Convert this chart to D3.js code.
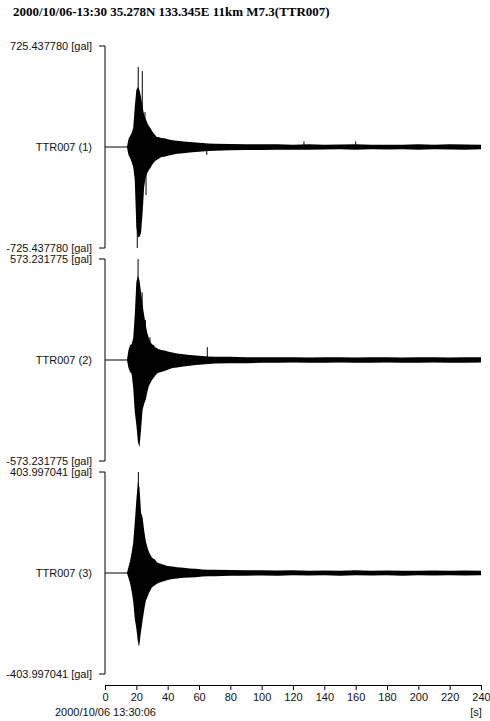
<!DOCTYPE html>
<html lang="en">
<head>
<meta charset="UTF-8" />
<title>TTR007 acceleration</title>
<script src="https://d3js.org/d3.v7.min.js"></script>
<style>
  body { margin: 0; background: #fff; }
  svg { display: block; }
  .lbl { font-family: "Liberation Sans", Arial, sans-serif; font-size: 11px; fill: #111; }
  .title { font-family: "Liberation Serif", "Times New Roman", serif; font-weight: bold; font-size: 13px; fill: #000; }
  .axis text { font-family: "Liberation Sans", Arial, sans-serif; font-size: 11px; fill: #111; }
  .axis path, .axis line { stroke: #000; }
</style>
</head>
<body>
<svg width="490" height="721"></svg>
<script>
// envelope of each trace (gal)
const times = [0, 14, 15, 16, 17, 18, 19, 20, 21, 22, 23, 24, 25, 26, 27, 28, 29, 30, 31, 32, 33, 34,
  36, 38, 40, 43, 46, 50, 54, 58, 62, 66, 70,
  80, 90, 100, 110, 120, 130, 140, 150, 160, 170, 180, 190, 200, 210, 220, 230, 240];

const up1 = [0, 0, 57, 79, 101, 136, 287, 409, 431, 409, 359, 287, 230, 201, 172, 151, 136, 115, 101, 86, 72, 72,
  65, 62, 55, 48, 45, 40, 36, 32, 29, 25, 24,
  22, 20, 19, 20, 17, 19, 17, 18, 19, 17, 16, 17, 19, 17, 19, 18, 17];
const dn1 = [0, 0, -57, -79, -108, -144, -237, -574, -646, -646, -617, -474, -287, -215, -187, -165, -151, -129, -115, -101, -93, -86,
  -72, -70, -62, -55, -48, -45, -40, -36, -32, -29, -27,
  -24, -22, -21, -19, -19, -20, -18, -17, -19, -17, -18, -17, -19, -17, -18, -19, -17];

const up2 = [0, 0, 57, 85, 90, 124, 254, 441, 480, 452, 384, 311, 254, 198, 153, 124, 102, 90, 85, 73, 68, 62,
  57, 54, 48, 42, 37, 32, 29, 25, 23, 20, 19,
  18, 16, 16, 15, 16, 14, 15, 16, 14, 15, 16, 14, 15, 16, 14, 15, 15];
const dn2 = [0, 0, -45, -68, -79, -158, -294, -367, -463, -497, -396, -283, -249, -226, -181, -147, -130, -113, -102, -90, -79, -73,
  -68, -62, -55, -45, -42, -37, -32, -29, -25, -23, -20,
  -19, -18, -16, -16, -14, -16, -16, -14, -16, -15, -14, -16, -15, -14, -16, -15, -14];

const up3 = [0, 0, 24, 48, 81, 121, 202, 291, 364, 343, 242, 222, 170, 129, 105, 85, 73, 61, 57, 53, 44, 40,
  36, 32, 28, 26, 23, 21, 18, 17, 14, 13, 13,
  12, 11, 11, 10, 11, 9, 10, 9, 11, 9, 10, 9, 9, 10, 9, 10, 9];
const dn3 = [0, 0, -20, -40, -73, -113, -182, -222, -275, -283, -234, -190, -149, -113, -97, -81, -69, -57, -53, -48, -44, -40,
  -36, -32, -28, -24, -22, -19, -18, -17, -14, -13, -13,
  -11, -11, -10, -11, -9, -10, -9, -11, -9, -10, -9, -11, -9, -10, -9, -10, -9];

// isolated peaks sticking out of the envelope
const spikeT1 = [20.6, 21.2, 23.8, 25.5, 26.2, 65, 127, 160];
const spikeV1 = [-725, 575, 545, 250, -345, -57, 40, 40];
const spikeT2 = [21.1, 23.7, 25.8, 28.7, 65.3];
const spikeV2 = [573, 384, 226, 130, 73];
const spikeT3 = [21.3, 21.6];
const spikeV3 = [404, -290];

const maxAmp = [725.437780, 573.231775, 403.997041];
const traceNames = ["TTR007 (1)", "TTR007 (2)", "TTR007 (3)"];
const xTicks = [0, 20, 40, 60, 80, 100, 120, 140, 160, 180, 200, 220, 240];

const titleText = "2000/10/06-13:30 35.278N 133.345E 11km M7.3(TTR007)";
const startText = "2000/10/06 13:30:06";

const traces = [
  { up: up1, dn: dn1, st: spikeT1, sv: spikeV1 },
  { up: up2, dn: dn2, st: spikeT2, sv: spikeV2 },
  { up: up3, dn: dn3, st: spikeT3, sv: spikeV3 }
];

const svg = d3.select("svg");
const x = d3.scaleLinear().domain([0, 240]).range([105, 481]);
const panelTop = [46, 259, 472];
const panelH = 202;
const axisY = 685;

svg.append("text")
  .attr("class", "title")
  .attr("x", 13)
  .attr("y", 16)
  .text(titleText);

traces.forEach((tr, i) => {
  const top = panelTop[i];
  const bottom = top + panelH;
  const y = d3.scaleLinear().domain([-maxAmp[i], maxAmp[i]]).range([bottom, top]);
  const g = svg.append("g");

  // bracket axis
  g.append("path")
    .attr("d", `M99,${top}H${x(0)}V${bottom}H99`)
    .attr("fill", "none")
    .attr("stroke", "#000");

  // baseline
  g.append("line")
    .attr("x1", x(0)).attr("x2", x(240))
    .attr("y1", y(0)).attr("y2", y(0))
    .attr("stroke", "#000");

  const pts = times.map((t, j) => ({ t: t, hi: tr.up[j], lo: tr.dn[j] }));
  const area = d3.area()
    .x((d) => x(d.t))
    .y0((d) => y(d.lo))
    .y1((d) => y(d.hi));

  g.append("path")
    .datum(pts)
    .attr("d", area)
    .attr("fill", "#000");

  g.selectAll(".spike")
    .data(tr.st.map((t, j) => ({ t: t, v: tr.sv[j] })))
    .enter()
    .append("line")
    .attr("class", "spike")
    .attr("x1", (d) => x(d.t)).attr("x2", (d) => x(d.t))
    .attr("y1", y(0)).attr("y2", (d) => y(d.v))
    .attr("stroke", "#000")
    .attr("stroke-width", 1);

  // labels
  g.append("text").attr("class", "lbl")
    .attr("x", 92).attr("y", top).attr("dy", "0.35em")
    .attr("text-anchor", "end")
    .text(maxAmp[i].toFixed(6) + " [gal]");
  g.append("text").attr("class", "lbl")
    .attr("x", 92).attr("y", y(0)).attr("dy", "0.35em")
    .attr("text-anchor", "end")
    .text(traceNames[i]);
  g.append("text").attr("class", "lbl")
    .attr("x", 92).attr("y", bottom).attr("dy", "0.35em")
    .attr("text-anchor", "end")
    .text("-" + maxAmp[i].toFixed(6) + " [gal]");
});

// time axis
svg.append("g")
  .attr("class", "axis")
  .attr("transform", `translate(0,${axisY})`)
  .call(d3.axisBottom(x).tickValues(xTicks).tickSize(5).tickSizeOuter(0).tickPadding(3));

svg.append("text").attr("class", "lbl")
  .attr("x", 55).attr("y", 716)
  .text(startText);
svg.append("text").attr("class", "lbl")
  .attr("x", 476).attr("y", 716)
  .attr("text-anchor", "middle")
  .text("[s]");
</script>
</body>
</html>
